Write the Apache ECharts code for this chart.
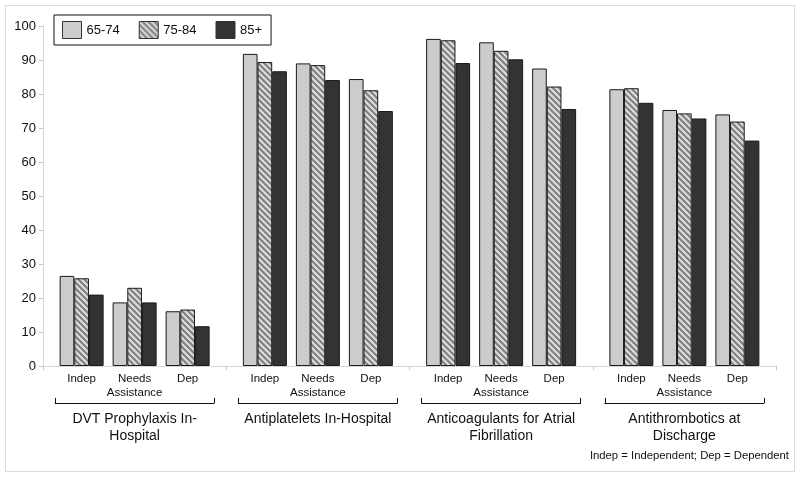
<!DOCTYPE html>
<html>
<head>
<meta charset="utf-8">
<script src="https://cdn.jsdelivr.net/npm/echarts@6/dist/echarts.min.js"></script>
<style>
html,body{margin:0;padding:0;background:#fff;}
#chart{width:800px;height:477px;}
</style>
</head>
<body>
<div id="chart"></div>
<script>
// ---- data ----
const groups = ['DVT Prophylaxis In-\nHospital', 'Antiplatelets In-Hospital', 'Anticoagulants for Atrial\nFibrillation', 'Antithrombotics at\nDischarge'];
const statuses = ['Indep', 'Needs\nAssistance', 'Dep'];
const ages = ['65-74', '75-84', '85+'];
const age65to74 = [26.5, 18.7, 16.1, 91.8, 89.0, 84.4, 96.2, 95.2, 87.5, 81.4, 75.3, 74.0];
const age75to84 = [25.8, 23.0, 16.6, 89.4, 88.5, 81.1, 95.8, 92.7, 82.2, 81.7, 74.3, 71.9];
const age85plus = [21.0, 18.7, 11.7, 86.7, 84.1, 75.0, 89.1, 90.2, 75.6, 77.4, 72.8, 66.3];
const yTicks = {min: 0, max: 100, interval: 10};
const footnote = 'Indep = Independent; Dep = Dependent';

// ---- styles ----
const FONT = '"Liberation Sans", Arial, Helvetica, sans-serif';
function hatch() {
  const s = 6;
  const c = document.createElement('canvas');
  c.width = s; c.height = s;
  const g = c.getContext('2d');
  g.fillStyle = '#808080';
  g.fillRect(0, 0, s, s);
  g.strokeStyle = '#dedede';
  g.lineWidth = 2.1;
  g.beginPath();
  g.moveTo(-1, -1); g.lineTo(s + 1, s + 1);
  g.moveTo(-1, s - 1); g.lineTo(1, s + 1);
  g.moveTo(s - 1, -1); g.lineTo(s + 1, 1);
  g.stroke();
  return {image: c, repeat: 'repeat'};
}
const fills = ['#cccccc', hatch(), '#333333'];
const seriesData = [age65to74, age75to84, age85plus];

const TOP = 26, BOTTOM = 111, LEFT = 43, RIGHT = 24;
const plotW = 800 - LEFT - RIGHT;
const band = plotW / groups.length;
const innerW = 159;

const grid = [{left: LEFT, right: RIGHT, top: TOP, bottom: BOTTOM}];
const xAxis = [{
  type: 'category', gridIndex: 0, data: groups,
  axisLine: {show: true, lineStyle: {color: '#d6d6d6', width: 1}},
  axisTick: {show: true, length: 4, lineStyle: {color: '#c8c8c8'}},
  axisLabel: {show: false}
}];
const yAxis = [{
  type: 'value', gridIndex: 0, min: yTicks.min, max: yTicks.max, interval: yTicks.interval,
  axisLine: {show: true, lineStyle: {color: '#d6d6d6', width: 1}},
  axisTick: {show: true, length: 4, lineStyle: {color: '#c8c8c8'}},
  splitLine: {show: false},
  axisLabel: {color: '#111', fontSize: 13, fontFamily: FONT, margin: 7}
}];
const series = [];

groups.forEach((gname, gi) => {
  const gIdx = gi + 1;
  grid.push({left: LEFT + band * gi + (band - innerW) / 2, width: innerW, top: TOP, bottom: BOTTOM});
  xAxis.push({
    type: 'category', gridIndex: gIdx, data: statuses,
    axisLine: {show: false}, axisTick: {show: false},
    axisLabel: {color: '#111', fontSize: 11.5, fontFamily: FONT, margin: 6, lineHeight: 14, interval: 0}
  });
  // bracket axis
  xAxis.push({
    type: 'value', gridIndex: gIdx, position: 'bottom', offset: 37,
    min: 0, max: 1, interval: 1,
    axisLine: {show: true, lineStyle: {color: '#111', width: 1}},
    axisTick: {show: true, inside: true, length: 5, lineStyle: {color: '#111', width: 1}},
    axisLabel: {show: false}, splitLine: {show: false},
    name: gname, nameLocation: 'middle', nameGap: 8,
    nameTextStyle: {color: '#111', fontSize: 14, fontFamily: FONT, lineHeight: 17, verticalAlign: 'top'}
  });
  yAxis.push({
    type: 'value', gridIndex: gIdx, min: yTicks.min, max: yTicks.max, interval: yTicks.interval,
    show: false
  });
  const xIdx = xAxis.length - 2;
  ages.forEach((age, ai) => {
    series.push({
      type: 'bar', name: age, xAxisIndex: xIdx, yAxisIndex: gIdx,
      data: seriesData[ai].slice(gi * 3, gi * 3 + 3),
      barGap: '0%', barCategoryGap: '17%',
      itemStyle: {color: fills[ai], borderColor: '#1a1a1a', borderWidth: 1},
      emphasis: {disabled: true},
      animation: false
    });
  });
});

const chart = echarts.init(document.getElementById('chart'), null, {renderer: 'canvas'});
chart.setOption({
  backgroundColor: '#fff',
  animation: false,
  legend: {
    data: ages, left: 54, top: 15, orient: 'horizontal',
    itemWidth: 19, itemHeight: 17, itemGap: 19,
    padding: [6, 9, 6, 8],
    borderColor: '#111', borderWidth: 1,
    icon: 'rect',
    itemStyle: {borderWidth: 1, borderColor: '#333'},
    textStyle: {color: '#111', fontSize: 13, fontFamily: FONT},
    selectedMode: false
  },
  title: {
    text: footnote, right: 11, bottom: 16, padding: 0,
    textStyle: {color: '#111', fontSize: 11.3, fontWeight: 'normal', fontFamily: FONT}
  },
  graphic: [{
    type: 'rect', silent: true,
    shape: {x: 5.5, y: 5.5, width: 789, height: 466},
    style: {fill: 'none', stroke: '#dcdcdc', lineWidth: 1}
  }],
  grid, xAxis, yAxis, series
});
</script>
</body>
</html>
